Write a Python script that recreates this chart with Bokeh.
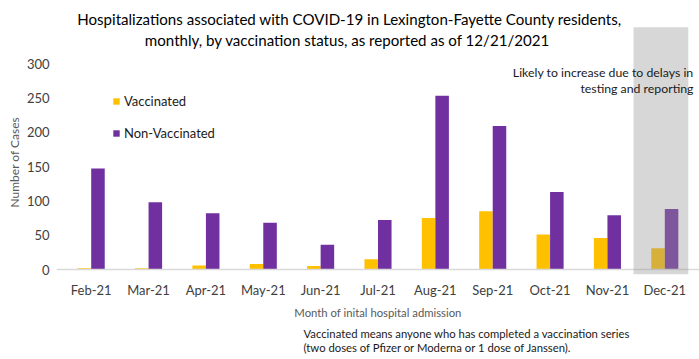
import numpy as np
from bokeh.plotting import figure
from bokeh.models import (FactorRange, FixedTicker, Span, BoxAnnotation, Label,
                          Legend, LegendItem, ColumnDataSource, Title)
from bokeh.transform import dodge
from bokeh.embed import file_html
from bokeh.resources import INLINE

# ---- data ----
months = ["Feb-21", "Mar-21", "Apr-21", "May-21", "Jun-21", "Jul-21",
          "Aug-21", "Sep-21", "Oct-21", "Nov-21", "Dec-21"]
vaccinated = [2, 2, 6, 8, 5, 15, 75, 85, 51, 46, 31]
non_vaccinated = [147, 98, 82, 68, 36, 72, 253, 209, 113, 79, 88]
y_ticks = [0, 50, 100, 150, 200, 250, 300]

FONT = "Lato"
W, H = 699, 359
BL, BR, BT, BB = 56, 0, 0, 83      # frame borders
FRAME_LEFT = BL
FRAME_BOTTOM = H - BB              # 276
ZERO_PX, TOP300_PX = 269, 63
ppu = (ZERO_PX - TOP300_PX) / 300.0
y_start = -(FRAME_BOTTOM - ZERO_PX) / ppu
y_end = (ZERO_PX - BT) / ppu

src = ColumnDataSource(dict(month=months, vac=vaccinated, nonvac=non_vaccinated))

p = figure(width=W, height=H,
           x_range=FactorRange(*months, range_padding=0.105, range_padding_units="absolute"),
           y_range=(y_start, y_end),
           output_backend="svg", toolbar_location=None,
           min_border_left=BL, min_border_right=BR, min_border_top=BT, min_border_bottom=BB)
p.outline_line_color = None
p.xgrid.visible = False
p.ygrid.visible = False

r1 = p.vbar(x=dodge("month", -0.118, range=p.x_range), top="vac", width=0.236,
            source=src, fill_color="#FFC000", line_color=None)
r2 = p.vbar(x=dodge("month", 0.118, range=p.x_range), top="nonvac", width=0.236,
            source=src, fill_color="#7030A0", line_color=None)

# axes
p.yaxis.ticker = FixedTicker(ticks=y_ticks)
p.yaxis.axis_line_color = None
p.yaxis.major_tick_line_color = None
p.yaxis.minor_tick_line_color = None
p.yaxis.major_tick_out = 0
p.yaxis.major_tick_in = 0
p.yaxis.minor_tick_out = 0
p.yaxis.major_label_standoff = 7
p.yaxis.major_label_text_font = FONT
p.yaxis.major_label_text_font_size = "13px"
p.yaxis.major_label_text_color = "#404040"

p.xaxis.axis_line_color = None
p.xaxis.major_tick_line_color = None
p.xaxis.minor_tick_line_color = None
p.xaxis.major_tick_out = 0
p.xaxis.major_tick_in = 0
p.xaxis.minor_tick_out = 0
p.xaxis.major_label_standoff = 5
p.xaxis.major_label_text_font = FONT
p.xaxis.major_label_text_font_size = "13px"
p.xaxis.major_label_text_color = "#404040"
p.xaxis.axis_label = "Month of inital hospital admission"
p.xaxis.axis_label_standoff = 5
p.xaxis.axis_label_text_font = FONT
p.xaxis.axis_label_text_font_size = "11.3px"
p.xaxis.axis_label_text_font_style = "normal"
p.xaxis.axis_label_text_color = "#595959"

p.add_layout(Span(location=0, dimension="width", line_color="#d9d9d9", line_width=1.5))

# highlighted (incomplete) month
p.add_layout(BoxAnnotation(left=9.955, right=10.91, bottom=-6.8, top=352.9,
                           fill_color="#969696", fill_alpha=0.38, line_color=None))

# legend
legend = Legend(items=[LegendItem(label="Vaccinated", renderers=[r1]),
                       LegendItem(label="Non-Vaccinated", renderers=[r2])],
                location=(117 - FRAME_LEFT - 5, FRAME_BOTTOM - 141),
                glyph_width=8, glyph_height=8, label_height=16, spacing=16,
                label_standoff=4, padding=0, margin=0,
                border_line_color=None, background_fill_alpha=0,
                label_text_font=FONT, label_text_font_size="13px",
                label_text_color="#1a1a1a")
p.add_layout(legend, "center")


def lab(text, ix, iy, size, align="left", color="#000000"):
    p.add_layout(Label(x=ix - FRAME_LEFT, y=FRAME_BOTTOM - iy,
                       x_units="screen", y_units="screen", text=text,
                       text_font=FONT, text_font_size=size, text_align=align,
                       text_baseline="middle", text_color=color))


lab("Hospitalizations associated with COVID-19 in Lexington-Fayette County residents,",
    349, 18, "15.1px", "center")
lab("monthly, by vaccination status, as reported as of  12/21/2021", 349, 39, "15.1px", "center")
lab("Likely to increase due to delays in", 693, 72, "12.3px", "right", "#1a1a1a")
lab("testing and reporting", 693, 88, "12.3px", "right", "#1a1a1a")

# side texts (outside the frame)
p.add_layout(Title(text="Number of Cases", align="left", offset=69, standoff=4,
                   text_font=FONT, text_font_size="12px", text_font_style="normal",
                   text_color="#595959"), "left")
p.add_layout(Title(text="Vaccinated means anyone who has completed a vaccination series\n"
                        "(two doses of Pfizer or Moderna or 1 dose of Janssen).",
                   align="left", offset=247, standoff=8, text_font=FONT,
                   text_font_size="11.3px", text_font_style="normal", text_line_height=1.1,
                   text_color="#1a1a1a"), "below")

open("out.html", "w").write(file_html(p, INLINE))
